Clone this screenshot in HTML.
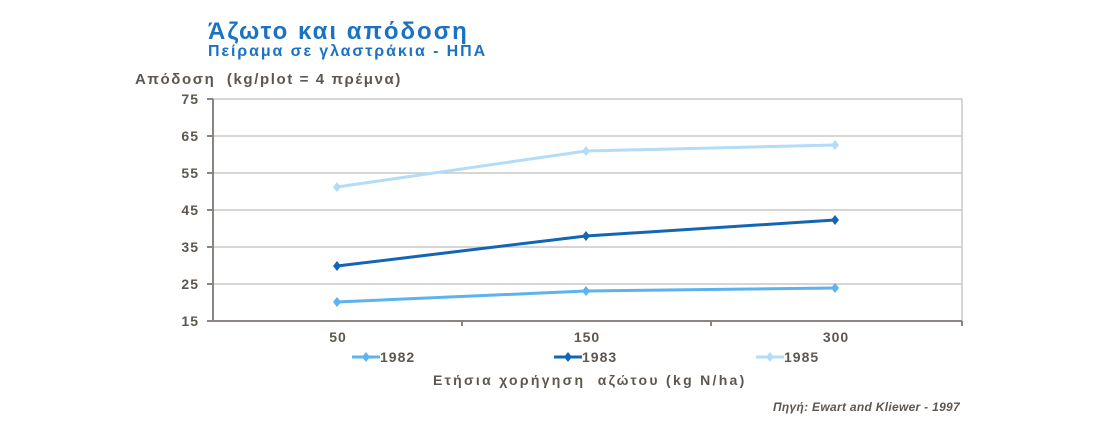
<!DOCTYPE html>
<html><head><meta charset="utf-8"><style>
body{margin:0;background:#fff;width:1110px;height:420px;overflow:hidden}
text{font-family:"Liberation Sans","DejaVu Sans",sans-serif;font-weight:bold}
</style></head><body>
<svg width="1110" height="420" xmlns="http://www.w3.org/2000/svg">
<text x="208" y="39" font-size="24" letter-spacing="2" fill="#1b72c2">Άζωτο και απόδοση</text>
<text x="208" y="56" font-size="16" letter-spacing="1.9" fill="#1b72c2">Πείραμα σε γλαστράκια - ΗΠΑ</text>
<text x="135" y="84" font-size="15" letter-spacing="1.6" fill="#5e574f" xml:space="preserve">Απόδοση  (kg/plot = 4 πρέμνα)</text>
<g stroke="#c8c8c8" stroke-width="1.5">
<line x1="213" y1="136" x2="962" y2="136"/><line x1="213" y1="173" x2="962" y2="173"/>
<line x1="213" y1="210" x2="962" y2="210"/><line x1="213" y1="247" x2="962" y2="247"/>
<line x1="213" y1="284" x2="962" y2="284"/>
</g>
<rect x="213" y="99" width="749" height="222" fill="none" stroke="#c8c8c8" stroke-width="1.5"/>
<g stroke="#8a8580" stroke-width="2">
<line x1="213" y1="99" x2="213" y2="322"/><line x1="212" y1="321" x2="962" y2="321"/>
<line x1="207" y1="99" x2="213" y2="99"/><line x1="207" y1="136" x2="213" y2="136"/><line x1="207" y1="173" x2="213" y2="173"/><line x1="207" y1="210" x2="213" y2="210"/><line x1="207" y1="247" x2="213" y2="247"/><line x1="207" y1="284" x2="213" y2="284"/><line x1="207" y1="321" x2="213" y2="321"/>
<line x1="462" y1="321" x2="462" y2="326"/><line x1="711" y1="321" x2="711" y2="326"/><line x1="962" y1="321" x2="962" y2="326"/>
</g>
<g font-size="14" letter-spacing="1" fill="#5e574f" text-anchor="end">
<text x="199" y="104">75</text><text x="199" y="141">65</text><text x="199" y="178">55</text><text x="199" y="215">45</text><text x="199" y="252">35</text><text x="199" y="289">25</text><text x="199" y="326">15</text>
</g>
<g font-size="14" letter-spacing="1" fill="#5e574f" text-anchor="middle">
<text x="338" y="342">50</text><text x="587" y="342">150</text><text x="836" y="342">300</text>
</g>
<defs><path id="d" d="M0,-5 L4,0 L0,5 L-4,0Z"/></defs>
<polyline points="337,302 586,291 835,288" fill="none" stroke="#5cb3ef" stroke-width="3"/>
<polyline points="337,266 586,236 835,220" fill="none" stroke="#1565b5" stroke-width="3"/>
<polyline points="337,187 586,151 835,145" fill="none" stroke="#b3dcf7" stroke-width="3"/>
<g fill="#5cb3ef"><use href="#d" x="337" y="302"/><use href="#d" x="586" y="291"/><use href="#d" x="835" y="288"/></g>
<g fill="#1565b5"><use href="#d" x="337" y="266"/><use href="#d" x="586" y="236"/><use href="#d" x="835" y="220"/></g>
<g fill="#b3dcf7"><use href="#d" x="337" y="187"/><use href="#d" x="586" y="151"/><use href="#d" x="835" y="145"/></g>
<line x1="352" y1="357" x2="380" y2="357" stroke="#5cb3ef" stroke-width="3"/><use href="#d" x="366" y="357" fill="#5cb3ef"/>
<text x="380" y="362" font-size="14" letter-spacing="1" fill="#5e574f">1982</text>
<line x1="554" y1="357" x2="582" y2="357" stroke="#1565b5" stroke-width="3"/><use href="#d" x="568" y="357" fill="#1565b5"/>
<text x="582" y="362" font-size="14" letter-spacing="1" fill="#5e574f">1983</text>
<line x1="756" y1="357" x2="784" y2="357" stroke="#b3dcf7" stroke-width="3"/><use href="#d" x="770" y="357" fill="#b3dcf7"/>
<text x="784" y="362" font-size="14" letter-spacing="1" fill="#5e574f">1985</text>
<text x="433" y="385" font-size="14" letter-spacing="2.3" fill="#5e574f" xml:space="preserve">Ετήσια χορήγηση  αζώτου (kg N/ha)</text>
<text x="960" y="411" font-size="12" font-style="italic" letter-spacing="0.3" fill="#5e574f" text-anchor="end">Πηγή: Ewart and Kliewer - 1997</text>
</svg>
</body></html>
